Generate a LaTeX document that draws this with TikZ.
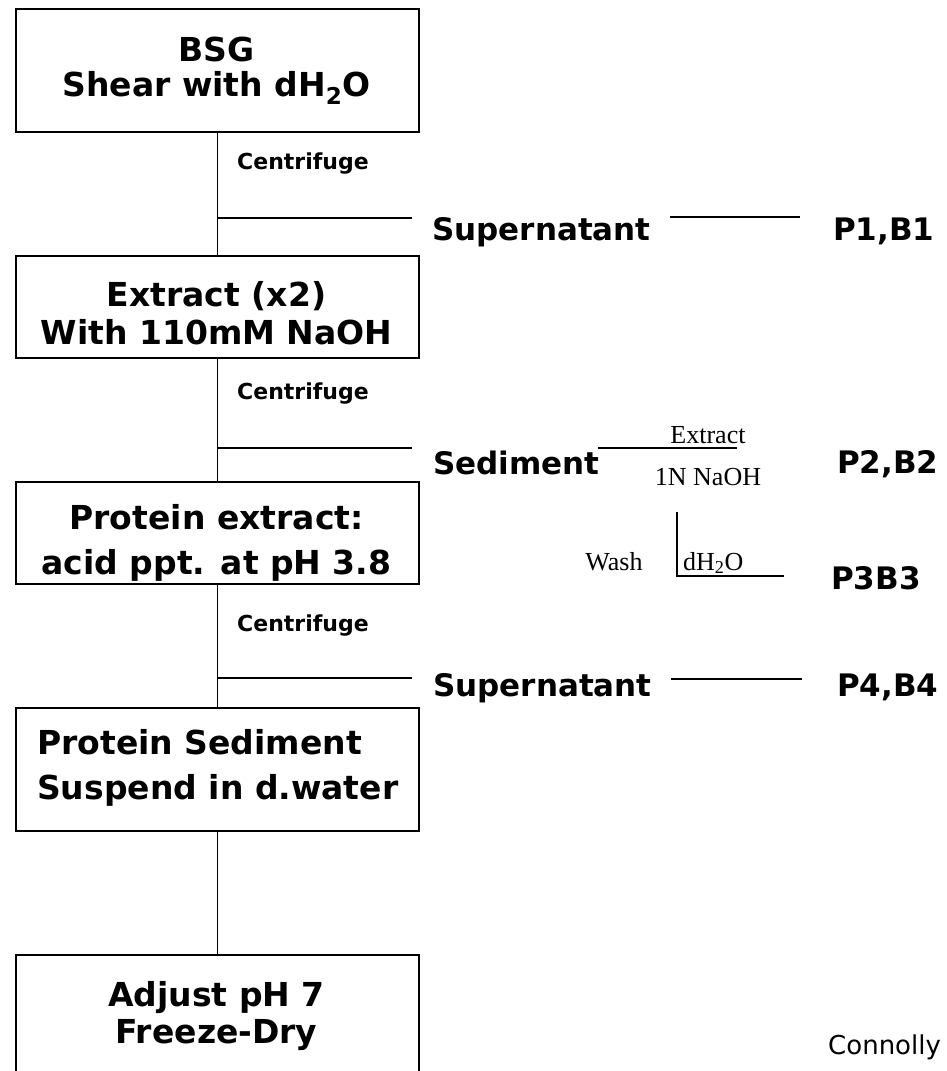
\documentclass[tikz,border=0pt]{standalone}
\usepackage{fontspec}
\setmainfont{DejaVu Sans}
\newfontfamily\serifface{Liberation Serif}
\begin{document}
\begin{tikzpicture}[x=1pt,y=-1pt,
  conn/.style={line width=1.7pt},
  thinconn/.style={line width=1.2pt},
  procbox/.style={draw, line width=1.7pt, minimum width=403pt, inner sep=0pt, anchor=north west},
  boxtext/.style={font=\fontsize{33}{40}\selectfont\bfseries, inner sep=0pt},
  sidetext/.style={font=\fontsize{31}{37}\selectfont\bfseries, inner sep=0pt, anchor=base west},
  centtext/.style={font=\fontsize{22}{26}\selectfont\bfseries, inner sep=0pt, anchor=base west},
  sertext/.style={font=\serifface\fontsize{26}{30}\selectfont, inner sep=0pt, anchor=base},
]
\useasboundingbox (0,0) rectangle (946,1071);
\clip (0,0) rectangle (946,1071);

% boxes
\node[procbox, minimum height=123pt] (b1) at (15,8) {};
\node[procbox, minimum height=102pt] (b2) at (15,255) {};
\node[procbox, minimum height=102pt] (b3) at (15,481) {};
\node[procbox, minimum height=123pt] (b4) at (15,707) {};
\node[procbox, minimum height=160pt] (b5) at (15,954) {};

% box texts
\node[boxtext, anchor=base] (t1a) at (216.5,61) {BSG};
\node[boxtext, anchor=base] (t1b) at (216.5,96) {Shear with dH\textsubscript{2}O};
\node[boxtext, anchor=base] (t2a) at (216.5,306) {Extract (x2)};
\node[boxtext, anchor=base] (t2b) at (216.5,344) {With 110mM NaOH};
\node[boxtext, anchor=base] (t3a) at (216.5,529) {Protein extract:};
\node[boxtext, anchor=base] (t3b) at (216.5,574) {acid ppt. at pH 3.8};
\node[boxtext, anchor=base west] (t4a) at (37,754) {Protein Sediment};
\node[boxtext, anchor=base west] (t4b) at (37,799) {Suspend in d.water};
\node[boxtext, anchor=base] (t5a) at (216.5,1006) {Adjust pH 7};
\node[boxtext, anchor=base] (t5b) at (216.5,1043) {Freeze-Dry};

% main connectors
\draw[conn] (b1.south) -- (b2.north);
\draw[conn] (b2.south) -- (b3.north);
\draw[conn] (b3.south) -- (b4.north);
\draw[conn] (b4.south) -- (b5.north);

% centrifuge labels
\node[centtext] (c1) at (237,169) {Centrifuge};
\node[centtext] (c2) at (237,399) {Centrifuge};
\node[centtext] (c3) at (237,631) {Centrifuge};

% branches
\coordinate (j1) at (216.5,218); \coordinate (e1) at (412,218);
\coordinate (j2) at (216.5,448); \coordinate (e2) at (412,448);
\coordinate (j3) at (216.5,678); \coordinate (e3) at (412,678);
\draw[conn] (j1) -- (e1);
\draw[conn] (j2) -- (e2);
\draw[conn] (j3) -- (e3);

% right side, first
\node[sidetext] (sup1) at (432,240) {Supernatant};
\node[sidetext] (p1) at (833,240) {P1,B1};
\coordinate (l1a) at (670,217); \coordinate (l1b) at (800,217);
\draw[conn] (l1a) -- (l1b);

% sediment
\node[sidetext] (sed) at (433,474) {Sediment};
\node[sidetext] (p2) at (837,473) {P2,B2};
\coordinate (l2a) at (598,448); \coordinate (l2b) at (737,448);
\draw[thinconn] (l2a) -- (l2b);
\node[sertext] (ext) at (708,443) {Extract};
\node[sertext] (naoh) at (708,485) {1N NaOH};
\coordinate (w1) at (677,512); \coordinate (w2) at (677,576); \coordinate (w3) at (784,576);
\draw[thinconn] (w1) -- (w2) -- (w3);
\node[sertext] (wash) at (614,570) {Wash};
\node[sertext, anchor=base west] (dh2o) at (683,570) {dH\textsubscript{2}O};
\node[sidetext] (p3) at (831,589) {P3B3};

% right side, third
\node[sidetext] (sup3) at (433,696) {Supernatant};
\node[sidetext] (p4) at (837,696) {P4,B4};
\coordinate (l3a) at (671,679); \coordinate (l3b) at (802,679);
\draw[conn] (l3a) -- (l3b);

\node[font=\fontsize{26}{30}\selectfont, inner sep=0pt, anchor=base west] (credit) at (828,1054) {Connolly};
\end{tikzpicture}
\end{document}
